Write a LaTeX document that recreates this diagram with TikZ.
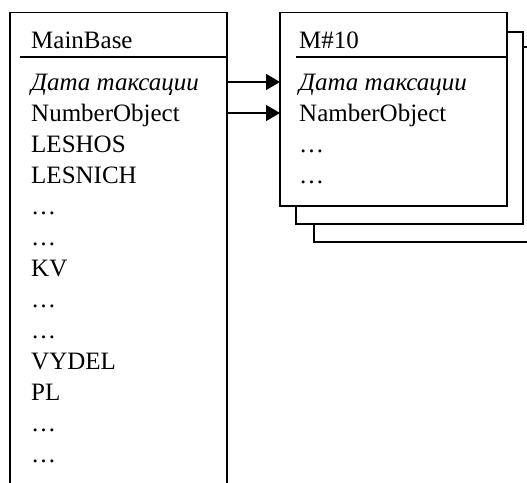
\documentclass[tikz,border=0pt]{standalone}
\usepackage{fontspec}
\setmainfont{Liberation Serif}
\usetikzlibrary{arrows.meta,calc}
\begin{document}
\begin{tikzpicture}[x=1pt,y=-1pt,
  frame/.style={draw=black, line width=1.4pt, fill=white, inner sep=0pt, outer sep=0pt, anchor=north west},
  rule/.style={draw=black, line width=1.4pt},
  field/.style={anchor=base west, inner sep=0pt, font=\fontsize{25}{30}\selectfont},
  link/.style={line width=1.6pt, -{Triangle[length=14pt,width=16pt]}}]
\useasboundingbox (0,0) rectangle (527,482);
\begin{scope}
  \clip (0,0) rectangle (527,482);
  % table MainBase, running past the bottom edge
  \node[frame, minimum width=217pt, minimum height=520pt] (lb) at (10,12.7) {};
  % stacked copies of table M#10, back to front
  \node[frame, minimum width=240pt, minimum height=195pt] (m3) at (314,47) {};
  \node[frame, minimum width=227pt, minimum height=192pt] (m2) at (296,32) {};
  \node[frame, minimum width=227pt, minimum height=193.3pt] (m10) at (280,12.7) {};
\end{scope}

% header rules
\draw[rule] (20,57) -- (lb.east |- 0,57);
\draw[rule] (296,57) -- (m10.east |- 0,57);

% MainBase fields
\node[field] (lh) at (31,48) {MainBase};
\node[field] (l1) at (31,90) {\itshape Дата таксации};
\node[field] (l2) at (31,121) {NumberObject};
\node[field] (l3) at (31,152) {LESHOS};
\node[field] (l4) at (31,183) {LESNICH};
\node[field] (l5) at (31,214) {…};
\node[field] (l6) at (31,245) {…};
\node[field] (l7) at (31,276) {KV};
\node[field] (l8) at (31,307) {…};
\node[field] (l9) at (31,338) {…};
\node[field] (l10) at (31,369) {VYDEL};
\node[field] (l11) at (31,400) {PL};
\node[field] (l12) at (31,431) {…};
\node[field] (l13) at (31,462) {…};

% M#10 fields
\node[field] (rh) at (299,48) {M\#10};
\node[field] (r1) at (299,90) {\itshape Дата таксации};
\node[field] (r2) at (299,121) {NamberObject};
\node[field] (r3) at (299,152) {…};
\node[field] (r4) at (299,183) {…};

% key links
\draw[link] ($(l1.base -| lb.east)+(0,-8)$) -- ($(r1.base -| m10.west)+(0,-8)$);
\draw[link] ($(l2.base -| lb.east)+(0,-8)$) -- ($(r2.base -| m10.west)+(0,-8)$);
\end{tikzpicture}
\end{document}
